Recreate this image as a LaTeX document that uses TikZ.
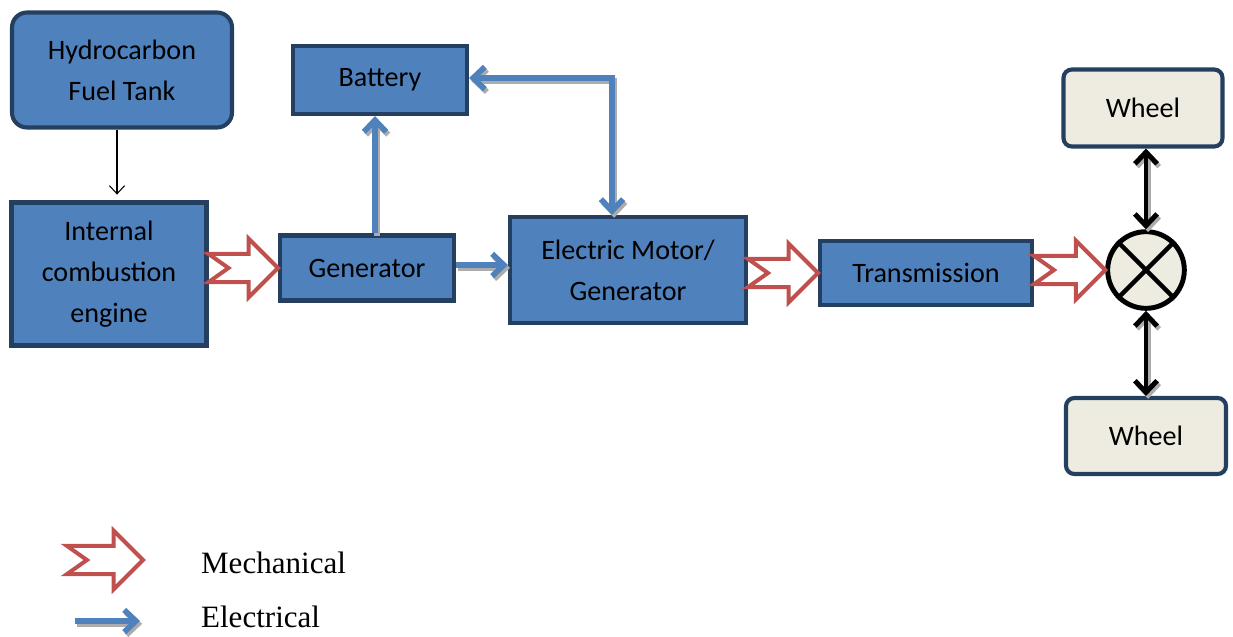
\documentclass[tikz,border=0pt]{standalone}
\usepackage{fontspec}
\setmainfont{Liberation Serif}
\newfontfamily\boxfont{Carlito}
\usetikzlibrary{arrows.meta,calc}

\definecolor{boxblue}{HTML}{4F81BD}
\definecolor{boxedge}{HTML}{243F60}
\definecolor{wheelfill}{HTML}{EEECE1}
\definecolor{mechred}{HTML}{C0504D}

% hollow arrow with notched tail, from #1 to #2
\newcommand{\mecharrow}[2]{%
  \draw[mech] let \p1=(#1), \p2=(#2) in
    (\x1,\y2+12pt) -- (\x2-25pt,\y2+12pt) -- (\x2-25pt,\y2+25pt) -- (\x2,\y2)
    -- (\x2-25pt,\y2-25pt) -- (\x2-25pt,\y2-12pt) -- (\x1,\y2-12pt)
    -- (\x1+17pt,\y2) -- cycle;}
% path drawn over a grey drop shadow
\newcommand{\shadowdraw}[2]{%
  \draw[#1, draw=gray!65, transform canvas={shift={(1.8pt,-2.4pt)}}] #2;
  \draw[#1] #2;}

\begin{document}
\begin{tikzpicture}[x=0.03cm, y=-0.03cm,
  block/.style={draw=boxedge, fill=boxblue, line width=3.5pt, align=center,
    inner sep=0pt, font=\boxfont\fontsize{24}{35}\selectfont},
  wheel/.style={block, fill=wheelfill, rounded corners=0.25cm},
  mech/.style={draw=mechred, fill=white, line width=3.4pt, line join=miter},
  elec/.style={draw=boxblue, line width=4.8pt, -{Straight Barb[length=10pt,width=19pt]}},
  elec2/.style={elec, {Straight Barb[length=10pt,width=19pt]}-{Straight Barb[length=10pt,width=19pt]}},
  drive/.style={draw=black, line width=4.2pt,
    {Straight Barb[length=10pt,width=19pt]}-{Straight Barb[length=10pt,width=19pt]}}]
  \useasboundingbox (0,0) rectangle (1233,636);

  % Blocks
  \node[block, rounded corners=0.45cm, minimum width=6.6cm, minimum height=3.45cm]
    (tank) at (122,70) {Hydrocarbon\\Fuel Tank};
  \node[block, minimum width=5.85cm, minimum height=4.29cm]
    (ice) at (109,274) {Internal\\combustion\\engine};
  \node[block, minimum width=5.22cm, minimum height=1.95cm]
    (gen) at (367,268) {Generator};
  \node[block, minimum width=5.22cm, minimum height=2.04cm]
    (bat) at (380,80) {Battery};
  \node[block, minimum width=7.08cm, minimum height=3.18cm]
    (mot) at (628,270) {Electric Motor/\\Generator};
  \node[block, minimum width=6.36cm, minimum height=1.92cm]
    (trans) at (926,273) {Transmission};

  % Differential and wheels
  \node[circle, draw=black, fill=wheelfill, line width=4.2pt, minimum size=2.3cm,
    inner sep=0pt] (sum) at (1146,270) {};
  \draw[line width=3.8pt] (sum.north west) -- (sum.south east);
  \draw[line width=3.8pt] (sum.north east) -- (sum.south west);
  \node[wheel, minimum width=4.77cm, minimum height=2.31cm] (wtop) at (1143,108) {Wheel};
  \node[wheel, minimum width=4.8cm, minimum height=2.28cm] (wbot) at (1146,436) {Wheel};

  % Fuel line
  \draw[line width=0.9pt, -{Straight Barb[length=7pt,width=13pt]}, shorten >=5pt]
    ([xshift=-0.15cm]tank.south) -- ([xshift=-0.15cm]tank.south |- ice.north);

  % Mechanical links
  \mecharrow{ice.east}{gen.west}
  \mecharrow{mot.east}{trans.west}
  \mecharrow{trans.east}{sum.west}

  % Electrical links
  \shadowdraw{elec}{([xshift=0.24cm]gen.north) -- ([xshift=0.24cm]gen.north |- bat.south)}
  \shadowdraw{elec}{([yshift=0.09cm]gen.east) -- ([yshift=0.09cm]gen.east -| mot.west)}
  \shadowdraw{elec2}{([yshift=0.06cm]bat.east) -| ([xshift=-0.48cm]mot.north)}

  % Wheel shafts
  \shadowdraw{drive}{(sum.north) -- (sum.north |- wtop.south)}
  \shadowdraw{drive}{(sum.south) -- (sum.south |- wbot.north)}

  % Legend
  \coordinate (m1) at (67,560);
  \coordinate (m2) at (143,560);
  \mecharrow{m1}{m2}
  \node[anchor=base west, font=\fontsize{26.5}{30}\selectfont] (lmech) at (197,573) {Mechanical};
  \coordinate (e1) at (75,621);
  \coordinate (e2) at (140,621);
  \shadowdraw{elec}{(e1) -- (e2)}
  \node[anchor=base west, font=\fontsize{26.5}{30}\selectfont] (lelec) at (197,627) {Electrical};
\end{tikzpicture}
\end{document}
